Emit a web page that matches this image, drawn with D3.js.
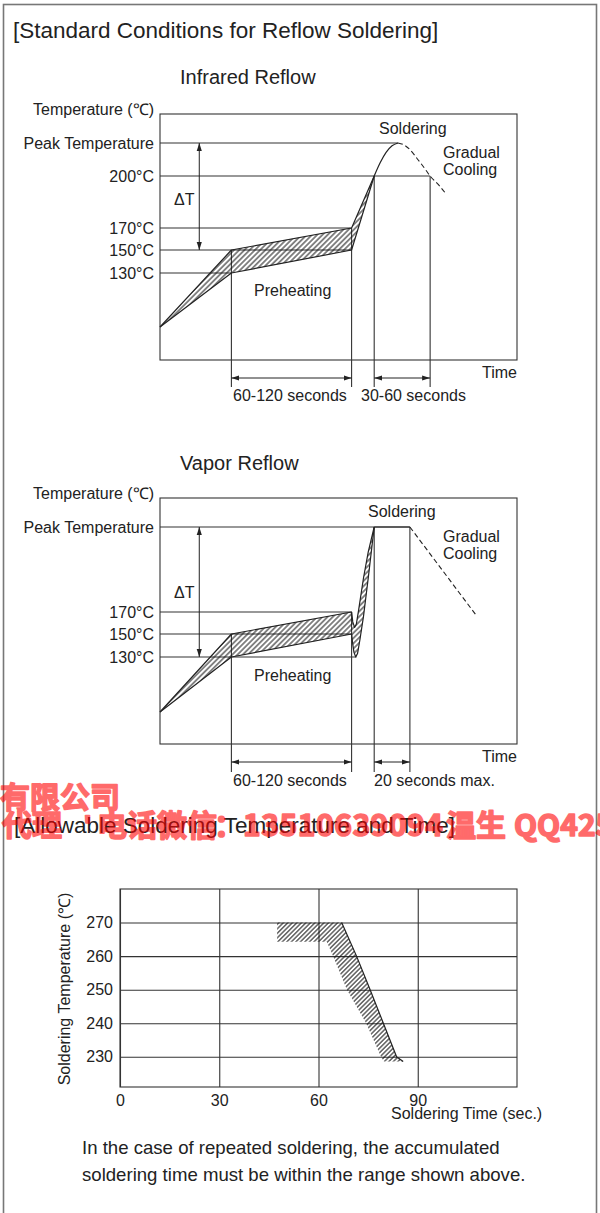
<!DOCTYPE html>
<html><head><meta charset="utf-8">
<script src="https://cdn.jsdelivr.net/npm/d3@7"></script>
<style>
html,body{margin:0;padding:0;background:#fff;}
svg{display:block;}
text{font-family:"Liberation Sans",Arial,Helvetica,sans-serif;fill:#222;}
</style></head><body>
<svg id="c" width="600" height="1213"></svg>
<script>
// ---------- DATA ----------
// Infrared reflow (schematic time units, temperature in °C; "Peak" drawn at 235)
const irTempLabels = ["Peak Temperature", "200°C", "170°C", "150°C", "130°C"];
const irTempValues = [235, 200, 170, 150, 130];
const irUpper   = [[0,40],[60,150],[161,170],[180,200]];
const irLower   = [[0,40],[60,130],[161,150],[180,200]];
const irSolder  = [[180,200],[185,214],[190,225],[195,232],[200,235]];
const irCooling = [[200,235],[205,233],[210,228],[217,217],[223,207],[227,200],[234,195],[240,190]];
const irHLines  = [[235,200],[200,227],[170,161],[150,161],[130,60]];   // [temp, end time]
const irVLines  = [[60,150],[161,170],[180,200],[227,200]];             // [time, top temp]
const irSpans   = [[60,161,"60-120 seconds"],[180,227,"30-60 seconds"]];
const irDeltaT  = [33,235,150];

// Vapor reflow
const vpTempLabels = ["Peak Temperature", "170°C", "150°C", "130°C"];
const vpTempValues = [235, 170, 150, 130];
const vpUpper   = [[0,40],[60,150],[161,170],[162,161],[163.5,156],[165,159],[167,172],[171,196],[175,216],[180,235]];
const vpLower   = [[0,40],[60,130],[161,150],[162,141],[163,134],[164.5,130],[166,133],[168,145],[171,166],[175,196],[180,235]];
const vpSolder  = [[180,235],[210,235]];
const vpCooling = [[210,235],[265,168]];
const vpHLines  = [[235,210],[170,161],[150,161],[130,165]];
const vpVLines  = [[60,150],[161,170],[180,235],[210,235]];
const vpSpans   = [[60,161,"60-120 seconds"],[180,210,"20 seconds max."]];
const vpDeltaT  = [33,235,130];

// Allowable soldering temperature and time
const timeTicks = [0,30,60,90];
const tempTicks = [230,240,250,260,270];
const limitLine = [[67,270],[71.5,260],[75.6,250],[79.6,240],[83.6,230],[85.6,228.6]];
const hatchZone = [[47.5,270],[67,270],[71.5,260],[75.6,250],[79.6,240],[83.6,230],[85.6,228.6],
                   [79.8,228.6],[78.9,230],[74.4,240],[68.6,250],[64.4,260],[62.5,264.3],[47.5,264.3]];

// ---------- LAYOUT ----------
const INK = "#222";
const svg = d3.select("#c");
const defs = svg.append("defs");

function hatchPattern(id, w, sw){
  const p = defs.append("pattern").attr("id", id).attr("patternUnits","userSpaceOnUse")
    .attr("width", w).attr("height", w).attr("patternTransform","rotate(45)");
  p.append("line").attr("x1", w/2).attr("y1", -1).attr("x2", w/2).attr("y2", w+1)
    .attr("stroke", "#111").attr("stroke-width", sw);
}
hatchPattern("hatchA", 3.7, 1.0);
hatchPattern("hatchB", 3.2, 1.0);

const mk = defs.append("marker").attr("id","arr").attr("viewBox","0 0 10 10")
  .attr("refX",10).attr("refY",5).attr("markerWidth",8).attr("markerHeight",8)
  .attr("markerUnits","userSpaceOnUse").attr("orient","auto-start-reverse");
mk.append("path").attr("d","M0,1.8 L10,5 L0,8.2 Z").attr("fill", INK);

// outer frame
svg.append("rect").attr("x",3.5).attr("y",4.5).attr("width",593).attr("height",1230)
  .attr("fill","none").attr("stroke","#777").attr("stroke-width",1.6);

svg.append("text").attr("x",13).attr("y",38).attr("font-size",22.5)
  .text("[Standard Conditions for Reflow Soldering]");

function drawProfile(c){
  const g = svg.append("g");
  const x = d3.scaleLinear().domain([0,300]).range([c.frame[0], c.frame[2]]);
  const y = d3.scaleLinear().domain(c.yDomain).range(c.yRange);
  const line = d3.line().x(d => x(d[0])).y(d => y(d[1]));

  g.append("text").attr("x", c.titleX).attr("y", c.titleY).attr("font-size",20).text(c.title);
  g.append("text").attr("x", c.frame[0]-6).attr("y", c.frame[1]+1).attr("font-size",16)
    .attr("text-anchor","end").text("Temperature (℃)");

  g.append("rect").attr("x", c.frame[0]).attr("y", c.frame[1])
    .attr("width", c.frame[2]-c.frame[0]).attr("height", c.frame[3]-c.frame[1])
    .attr("fill","none").attr("stroke","#333").attr("stroke-width",1.1);

  // temperature labels via axis
  const ax = g.append("g").attr("transform", `translate(${c.frame[0]},0)`)
    .call(d3.axisLeft(y).tickValues(c.tempValues).tickSize(0).tickPadding(6)
      .tickFormat((d,i) => c.tempLabels[i]));
  ax.select(".domain").remove();
  ax.attr("font-size",16).attr("font-family",null);
  ax.selectAll("text").attr("fill", INK);

  // reference lines
  g.selectAll(".hl").data(c.hLines).join("line")
    .attr("x1", x(0)).attr("x2", d => x(d[1])).attr("y1", d => y(d[0])).attr("y2", d => y(d[0]))
    .attr("stroke","#333").attr("stroke-width",1.1);
  g.selectAll(".vl").data(c.vLines).join("line")
    .attr("x1", d => x(d[0])).attr("x2", d => x(d[0])).attr("y1", d => y(d[1])).attr("y2", c.dimBottom)
    .attr("stroke","#333").attr("stroke-width",1.1);

  // hatch zone
  g.append("path").attr("d", line(c.upper.concat(c.lower.slice().reverse())) + "Z")
    .attr("fill","url(#hatchA)").attr("stroke","none");
  [c.upper, c.lower].forEach(pts => g.append("path").attr("d", line(pts))
    .attr("fill","none").attr("stroke",INK).attr("stroke-width",1.2).attr("stroke-linejoin","round"));

  g.append("path").attr("d", d3.line().x(d => x(d[0])).y(d => y(d[1])).curve(d3.curveMonotoneX)(c.solder))
    .attr("fill","none").attr("stroke",INK).attr("stroke-width",1.2);
  g.append("path").attr("d", d3.line().x(d => x(d[0])).y(d => y(d[1])).curve(d3.curveMonotoneX)(c.cooling))
    .attr("fill","none").attr("stroke",INK).attr("stroke-width",1.1).attr("stroke-dasharray","5,3");

  // delta T
  g.append("line").attr("x1", x(c.deltaT[0])).attr("x2", x(c.deltaT[0]))
    .attr("y1", y(c.deltaT[1])).attr("y2", y(c.deltaT[2]))
    .attr("stroke",INK).attr("stroke-width",1).attr("marker-start","url(#arr)").attr("marker-end","url(#arr)");
  g.append("text").attr("x", 174).attr("y", c.deltaTLabelY).attr("font-size",16).text("ΔT");

  // spans
  g.selectAll(".sp").data(c.spans).join("line")
    .attr("x1", d => x(d[0])).attr("x2", d => x(d[1])).attr("y1", c.arrowY).attr("y2", c.arrowY)
    .attr("stroke",INK).attr("stroke-width",1).attr("marker-start","url(#arr)").attr("marker-end","url(#arr)");
  g.selectAll(".spt").data(c.spans).join("text")
    .attr("x", (d,i) => c.spanLabelX[i]).attr("y", c.spanLabelY).attr("font-size",16).text(d => d[2]);

  // annotations
  g.append("text").attr("x", c.frame[2]).attr("y", c.arrowY).attr("text-anchor","end").attr("font-size",16).text("Time");
  g.append("text").attr("x", c.solderX).attr("y", c.solderY).attr("font-size",16).text("Soldering");
  g.append("text").attr("x", 443).attr("y", c.coolY).attr("font-size",16).text("Gradual");
  g.append("text").attr("x", 443).attr("y", c.coolY+16.5).attr("font-size",16).text("Cooling");
  g.append("text").attr("x", 254).attr("y", c.preY).attr("font-size",16).text("Preheating");
}

drawProfile({
  title:"Infrared Reflow", titleX:180, titleY:84,
  frame:[160,114,517,360], yDomain:[40,130,150,170,200,235], yRange:[327,273,250,228,176,143],
  tempLabels:irTempLabels, tempValues:irTempValues,
  upper:irUpper, lower:irLower, solder:irSolder, cooling:irCooling,
  hLines:irHLines, vLines:irVLines, spans:irSpans, deltaT:irDeltaT,
  dimBottom:387, arrowY:378, spanLabelY:401, spanLabelX:[233,361],
  deltaTLabelY:205, solderX:379, solderY:134, coolY:158, preY:296
});
drawProfile({
  title:"Vapor Reflow", titleX:180, titleY:470,
  frame:[160,498,517,744], yDomain:[40,130,150,170,235], yRange:[712,657,634,612,527],
  tempLabels:vpTempLabels, tempValues:vpTempValues,
  upper:vpUpper, lower:vpLower, solder:vpSolder, cooling:vpCooling,
  hLines:vpHLines, vLines:vpVLines, spans:vpSpans, deltaT:vpDeltaT,
  dimBottom:772, arrowY:762, spanLabelY:786, spanLabelX:[233,374],
  deltaTLabelY:598, solderX:368, solderY:517, coolY:542, preY:681
});

// ---------- Allowable soldering chart ----------
svg.append("text").attr("x",14).attr("y",833).attr("font-size",22.5)
  .text("[Allowable Soldering Temperature and Time]");

const x3 = d3.scaleLinear().domain([0,120]).range([120,517]);
const y3 = d3.scaleLinear().domain([221,280]).range([1087,889]);
const g3 = svg.append("g");

const yAx = g3.append("g").attr("transform","translate(120,0)")
  .call(d3.axisLeft(y3).tickValues(tempTicks).tickSize(-(517-120)).tickPadding(7));
const xAx = g3.append("g").attr("transform","translate(0,1087)")
  .call(d3.axisBottom(x3).tickValues(timeTicks).tickSize(-(1087-889)).tickPadding(8));
[yAx, xAx].forEach(a => {
  a.select(".domain").remove();
  a.attr("font-size",16).attr("font-family",null);
  a.selectAll("line").attr("stroke","#333").attr("stroke-width",1.1);
  a.selectAll("text").attr("fill",INK);
});
g3.append("rect").attr("x",120).attr("y",889).attr("width",397).attr("height",198)
  .attr("fill","none").attr("stroke","#333").attr("stroke-width",1.1);

const l3 = d3.line().x(d => x3(d[0])).y(d => y3(d[1]));
g3.append("path").attr("d", l3(hatchZone)+"Z").attr("fill","url(#hatchB)");
g3.append("path").attr("d", l3(limitLine)).attr("fill","none").attr("stroke",INK).attr("stroke-width",1.2);

g3.append("text").attr("transform","translate(64,989) rotate(-90)").attr("text-anchor","middle")
  .attr("dominant-baseline","central").attr("font-size",16).text("Soldering Temperature (℃)");
g3.append("text").attr("x",391).attr("y",1119).attr("font-size",16).text("Soldering Time (sec.)");

svg.append("text").attr("x",82).attr("y",1154).attr("font-size",18.6)
  .text("In the case of repeated soldering, the accumulated");
svg.append("text").attr("x",82).attr("y",1181).attr("font-size",18.6)
  .text("soldering time must be within the range shown above.");

// ---------- watermark ----------
const wm = svg.append("g").attr("opacity",0.58);
function wmText(x, y, s, len){
  const t = wm.append("text").attr("x",x).attr("y",y).attr("font-size",30)
    .style("fill","#ff0000").style("stroke","#ff0000").style("stroke-width",1.6)
    .style("stroke-linejoin","round")
    .style("font-weight",700)
    .style("font-family",'"Noto Sans CJK SC",sans-serif').text(s);
  if (len) t.attr("textLength",len).attr("lengthAdjust","spacing");
}
wmText(0, 808, "有限公司");
wmText(2, 836, "代理");
wmText(84, 836, "ʹ");
wmText(97, 836, "电话微信");
wmText(214, 836, "：");
wmText(243, 836, "13510639094", 200);
wmText(446, 836, "温生");
wmText(514, 836, "QQ425");
</script>
</body></html>
